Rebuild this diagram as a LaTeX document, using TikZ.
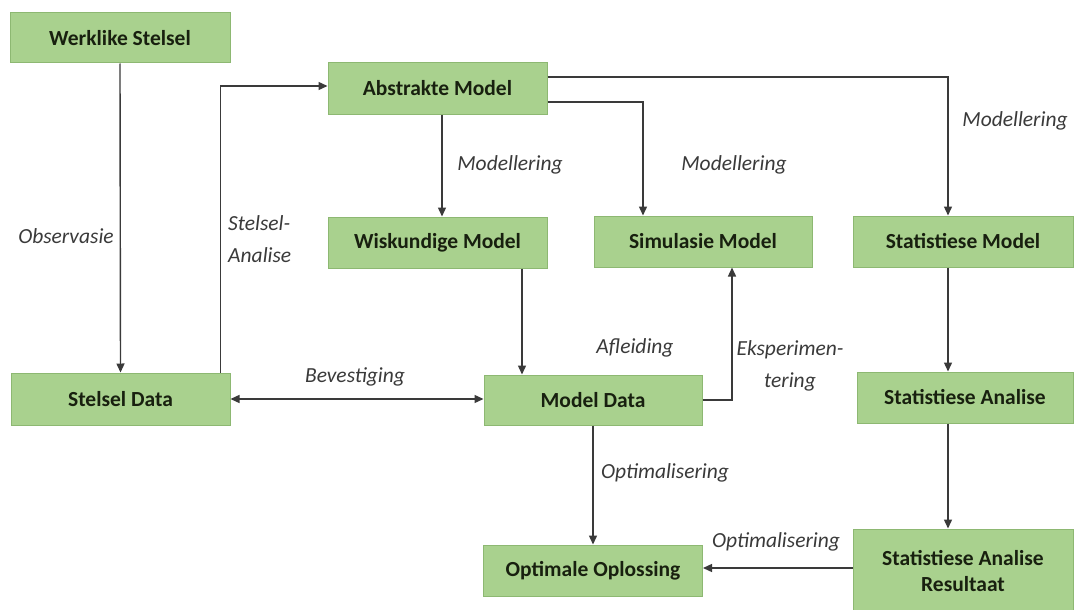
\documentclass[tikz,border=0pt]{standalone}
\usepackage{fontspec}
\setmainfont{Carlito}
\usetikzlibrary{arrows.meta}
\definecolor{boxfill}{HTML}{A9D18E}
\definecolor{boxline}{HTML}{8DB872}
\definecolor{boxtext}{HTML}{18200F}
\definecolor{linkcol}{HTML}{3A3A3A}
\definecolor{labcol}{HTML}{3A3A3A}
\begin{document}
\begin{tikzpicture}[x=1pt,y=-1pt,
  stagebox/.style={draw=boxline, line width=1pt, fill=boxfill, text=boxtext,
    font=\fontsize{21.5}{26}\selectfont\bfseries, inner sep=0pt,
    minimum width=219pt, minimum height=51pt, align=center},
  link/.style={draw=linkcol, line width=1.4pt, -{Triangle[length=9pt,width=8pt]}},
  twolink/.style={draw=linkcol, line width=1.4pt, {Triangle[length=9pt,width=8pt]}-{Triangle[length=9pt,width=8pt]}},
  steplabel/.style={text=labcol, font=\fontsize{21.5}{32}\selectfont\itshape, inner sep=0pt}]
\useasboundingbox (0,0) rectangle (1074,610);
\fill[white] (0,0) rectangle (1074,610);

% stages
\node[stagebox, minimum width=220pt, minimum height=50pt] (werk) at (120,38) {Werklike Stelsel};
\node[stagebox] (abst) at (437.5,88.5) {Abstrakte Model};
\node[stagebox] (wisk) at (437.5,242.5) {Wiskundige Model};
\node[stagebox, minimum width=218pt] (simu) at (703,241.5) {Simulasie Model};
\node[stagebox, minimum width=220pt] (stat) at (963,241.5) {Statistiese Model};
\node[stagebox, minimum height=52pt] (sdat) at (120.5,399) {Stelsel Data};
\node[stagebox, minimum width=218pt, minimum height=50pt] (mdat) at (593,400) {Model Data};
\node[stagebox, minimum width=216pt] (sana) at (965,397.5) {Statistiese Analise};
\node[stagebox] (opt) at (593,570.5) {Optimale Oplossing};
\node[stagebox, minimum width=220pt, minimum height=84pt] (res) at (963,571) {Statistiese Analise\\Resultaat};

% connectors
\draw[link] (werk.south) -- (sdat.north);
\draw[link] ([xshift=100pt]sdat.north) |- ([yshift=2.5pt]abst.west);
\draw[link] ([xshift=4.5pt]abst.south) -- ([xshift=4.5pt]wisk.north);
\draw[link] ([yshift=-13.5pt]abst.east) -| ([xshift=-60pt]simu.north);
\draw[link] ([yshift=11.5pt]abst.east) -| ([xshift=-15pt]stat.north);
\draw[link] ([xshift=84.5pt]wisk.south) -- ([xshift=-71pt]mdat.north);
\draw[link] (mdat.east) -| ([xshift=29pt]simu.south);
\draw[twolink] (sdat.east) -- (sdat.east -| mdat.west);
\draw[link] (mdat.south) -- (opt.north);
\draw[link] ([xshift=-15pt]stat.south) -- ([xshift=-17pt]sana.north);
\draw[link] ([xshift=-17pt]sana.south) -- ([xshift=-15pt]res.north);
\draw[link] ([yshift=3pt]res.west) -- ([yshift=2.5pt]opt.east);

% step labels
\node[steplabel] (l-obs) at (66,236) {Observasie};
\node[steplabel, align=left, anchor=west] (l-ana) at (228,239) {Stelsel-\\Analise};
\node[steplabel] (l-mod1) at (510,165) {Modellering};
\node[steplabel] (l-mod2) at (734,165) {Modellering};
\node[steplabel] (l-mod3) at (1015,121) {Modellering};
\node[steplabel] (l-bev) at (355,377) {Bevestiging};
\node[steplabel] (l-afl) at (635,348) {Afleiding};
\node[steplabel, align=center] (l-eks) at (790,366) {Eksperimen-\\tering};
\node[steplabel] (l-opt1) at (665,473) {Optimalisering};
\node[steplabel] (l-opt2) at (776,542) {Optimalisering};
\end{tikzpicture}
\end{document}
